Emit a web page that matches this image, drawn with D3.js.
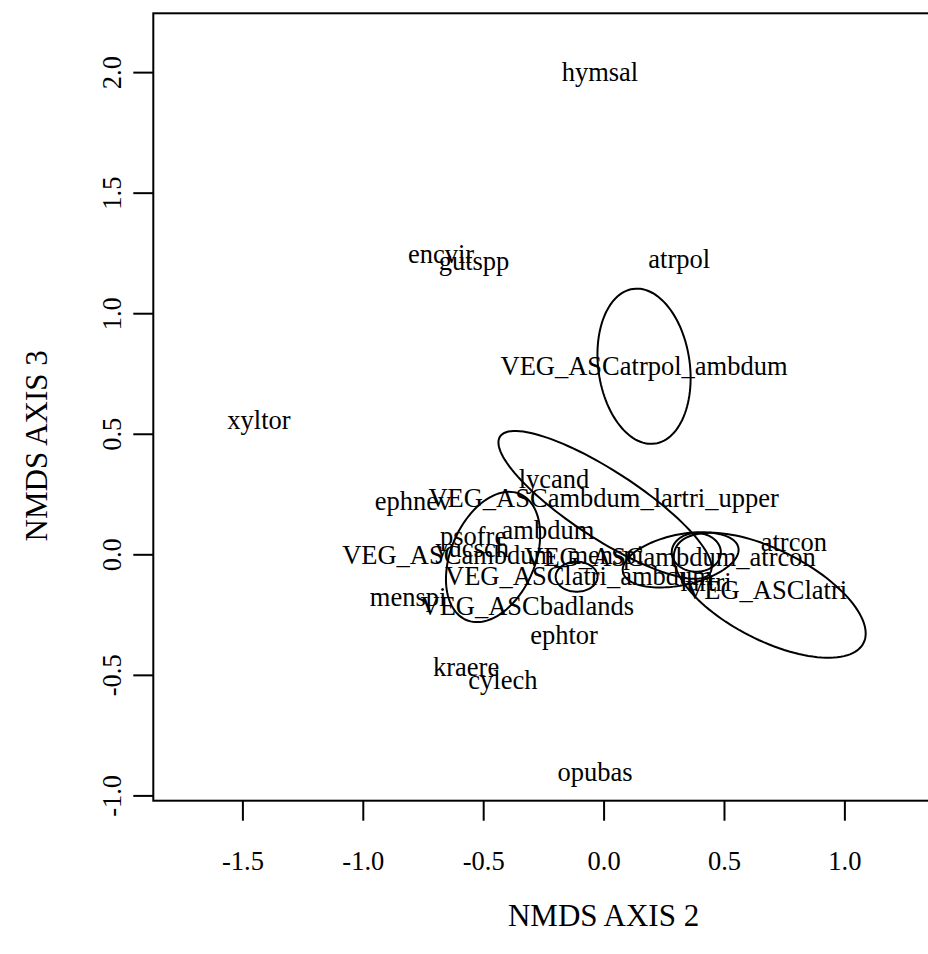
<!DOCTYPE html>
<html>
<head>
<meta charset="utf-8">
<script src="https://cdn.jsdelivr.net/npm/d3@7"></script>
<style>
  body { margin: 0; background: #fff; }
  text { font-family: "Liberation Serif", "Times New Roman", serif; fill: #000; }
</style>
</head>
<body>
<svg id="chart"></svg>
<script>
// species scores (NMDS axis 2, axis 3)
var speciesNames = ["hymsal", "encvir", "gutspp", "atrpol", "xyltor", "lycand", "ephnev", "psofre",
  "ambdum", "yucsch", "lartri", "atrcon", "menspi", "ephtor", "kraere", "cylech", "opubas"];
var speciesX = [-0.015, -0.675, -0.538, 0.314, -1.431, -0.206, -0.791, -0.542,
  -0.231, -0.546, 0.425, 0.790, -0.812, -0.164, -0.571, -0.418, -0.035];
var speciesY = [2.0, 1.243, 1.213, 1.221, 0.553, 0.309, 0.217, 0.072,
  0.097, 0.022, -0.115, 0.047, -0.178, -0.335, -0.470, -0.524, -0.904];

// group centroids (labels from ordiellipse)
var groupNames = ["VEG_ASCatrpol_ambdum", "VEG_ASCambdum_lartri_upper", "VEG_ASCambdum_menspi",
  "VEG_ASCambdum_atrcon", "VEG_ASClatri_ambdum", "VEG_ASCbadlands", "VEG_ASClatri"];
var groupX = [0.168, 0.0, -0.459, 0.276, -0.102, -0.317, 0.675];
var groupY = [0.780, 0.233, -0.007, -0.015, -0.092, -0.216, -0.152];

// ellipses: centre, semi axes, angle of the major axis (degrees)
var ellCX = [0.168, 0.006, -0.459, 0.320, -0.112, 0.385, 0.690];
var ellCY = [0.780, 0.205, -0.011, -0.023, -0.093, 0.008, -0.170];
var ellA = [0.324, 0.520, 0.284, 0.245, 0.087, 0.102, 0.437];
var ellB = [0.190, 0.140, 0.175, 0.105, 0.062, 0.080, 0.187];
var ellAngle = [98, -33, 67, 12, 0, 0, -27];

var xTicks = [-1.5, -1.0, -0.5, 0.0, 0.5, 1.0];
var yTicks = [-1.0, -0.5, 0.0, 0.5, 1.0, 1.5, 2.0];

var W = 928, H = 954;
var plotLeft = 153.3, plotTop = 13.3, plotW = 787.4, plotH = 787.4;
var fontSize = 26.5;
var titleSize = 31;

var svg = d3.select("#chart").attr("width", W).attr("height", H);

var x = d3.scaleLinear().domain([-1.870, 1.400]).range([plotLeft, plotLeft + plotW]);
var y = d3.scaleLinear().domain([-1.022, 2.244]).range([plotTop + plotH, plotTop]);

// axes (R style: ticks outward, labels at line 1)
var fmt = function(d) { return d.toFixed(1); };

var gx = svg.append("g")
  .attr("transform", "translate(0," + (plotTop + plotH) + ")")
  .call(d3.axisBottom(x).tickValues(xTicks).tickFormat(fmt).tickSize(20));
gx.select(".domain").remove();
gx.selectAll(".tick line").attr("stroke", "#000").attr("stroke-width", 2);
gx.selectAll(".tick text")
  .attr("font-size", fontSize).attr("font-family", "Liberation Serif")
  .attr("y", 61).attr("dy", "0.32em");

var gy = svg.append("g")
  .attr("transform", "translate(" + plotLeft + ",0)")
  .call(d3.axisLeft(y).tickValues(yTicks).tickFormat(fmt).tickSize(20));
gy.select(".domain").remove();
gy.selectAll(".tick line").attr("stroke", "#000").attr("stroke-width", 2);
gy.selectAll(".tick text")
  .attr("font-size", fontSize).attr("font-family", "Liberation Serif")
  .attr("x", 0)
  .attr("text-anchor", "middle")
  .attr("transform", "translate(-41,0) rotate(-90)")
  .attr("dy", "0.32em");

// plot box
svg.append("rect")
  .attr("x", plotLeft).attr("y", plotTop)
  .attr("width", plotW).attr("height", plotH)
  .attr("fill", "none").attr("stroke", "#000").attr("stroke-width", 2);

// axis titles
svg.append("text")
  .attr("x", x(0)).attr("y", 916).attr("dy", "0.32em")
  .attr("text-anchor", "middle").attr("font-size", titleSize)
  .text("NMDS AXIS 2");
svg.append("text")
  .attr("transform", "translate(37," + y(0.45) + ") rotate(-90)")
  .attr("dy", "0.32em")
  .attr("text-anchor", "middle").attr("font-size", titleSize)
  .text("NMDS AXIS 3");

var plot = svg.append("g");

// ellipses
var ellipseData = d3.range(ellCX.length).map(function(i) {
  var th = ellAngle[i] * Math.PI / 180;
  return d3.range(0, 360, 3).map(function(deg) {
    var t = deg * Math.PI / 180;
    var ex = ellA[i] * Math.cos(t), ey = ellB[i] * Math.sin(t);
    return [ellCX[i] + ex * Math.cos(th) - ey * Math.sin(th),
            ellCY[i] + ex * Math.sin(th) + ey * Math.cos(th)];
  });
});

var line = d3.line()
  .x(function(d) { return x(d[0]); })
  .y(function(d) { return y(d[1]); })
  .curve(d3.curveLinearClosed);

plot.selectAll("path.ell")
  .data(ellipseData)
  .join("path")
  .attr("class", "ell")
  .attr("d", line)
  .attr("fill", "none")
  .attr("stroke", "#000")
  .attr("stroke-width", 2);

// species labels
plot.selectAll("text.sp")
  .data(speciesNames)
  .join("text")
  .attr("class", "sp")
  .attr("x", function(d, i) { return x(speciesX[i]); })
  .attr("y", function(d, i) { return y(speciesY[i]); })
  .attr("dy", "0.32em")
  .attr("text-anchor", "middle")
  .attr("font-size", fontSize)
  .text(function(d) { return d; });

// group labels
plot.selectAll("text.grp")
  .data(groupNames)
  .join("text")
  .attr("class", "grp")
  .attr("x", function(d, i) { return x(groupX[i]); })
  .attr("y", function(d, i) { return y(groupY[i]); })
  .attr("dy", "0.32em")
  .attr("text-anchor", "middle")
  .attr("font-size", fontSize)
  .text(function(d) { return d; });
</script>
</body>
</html>
